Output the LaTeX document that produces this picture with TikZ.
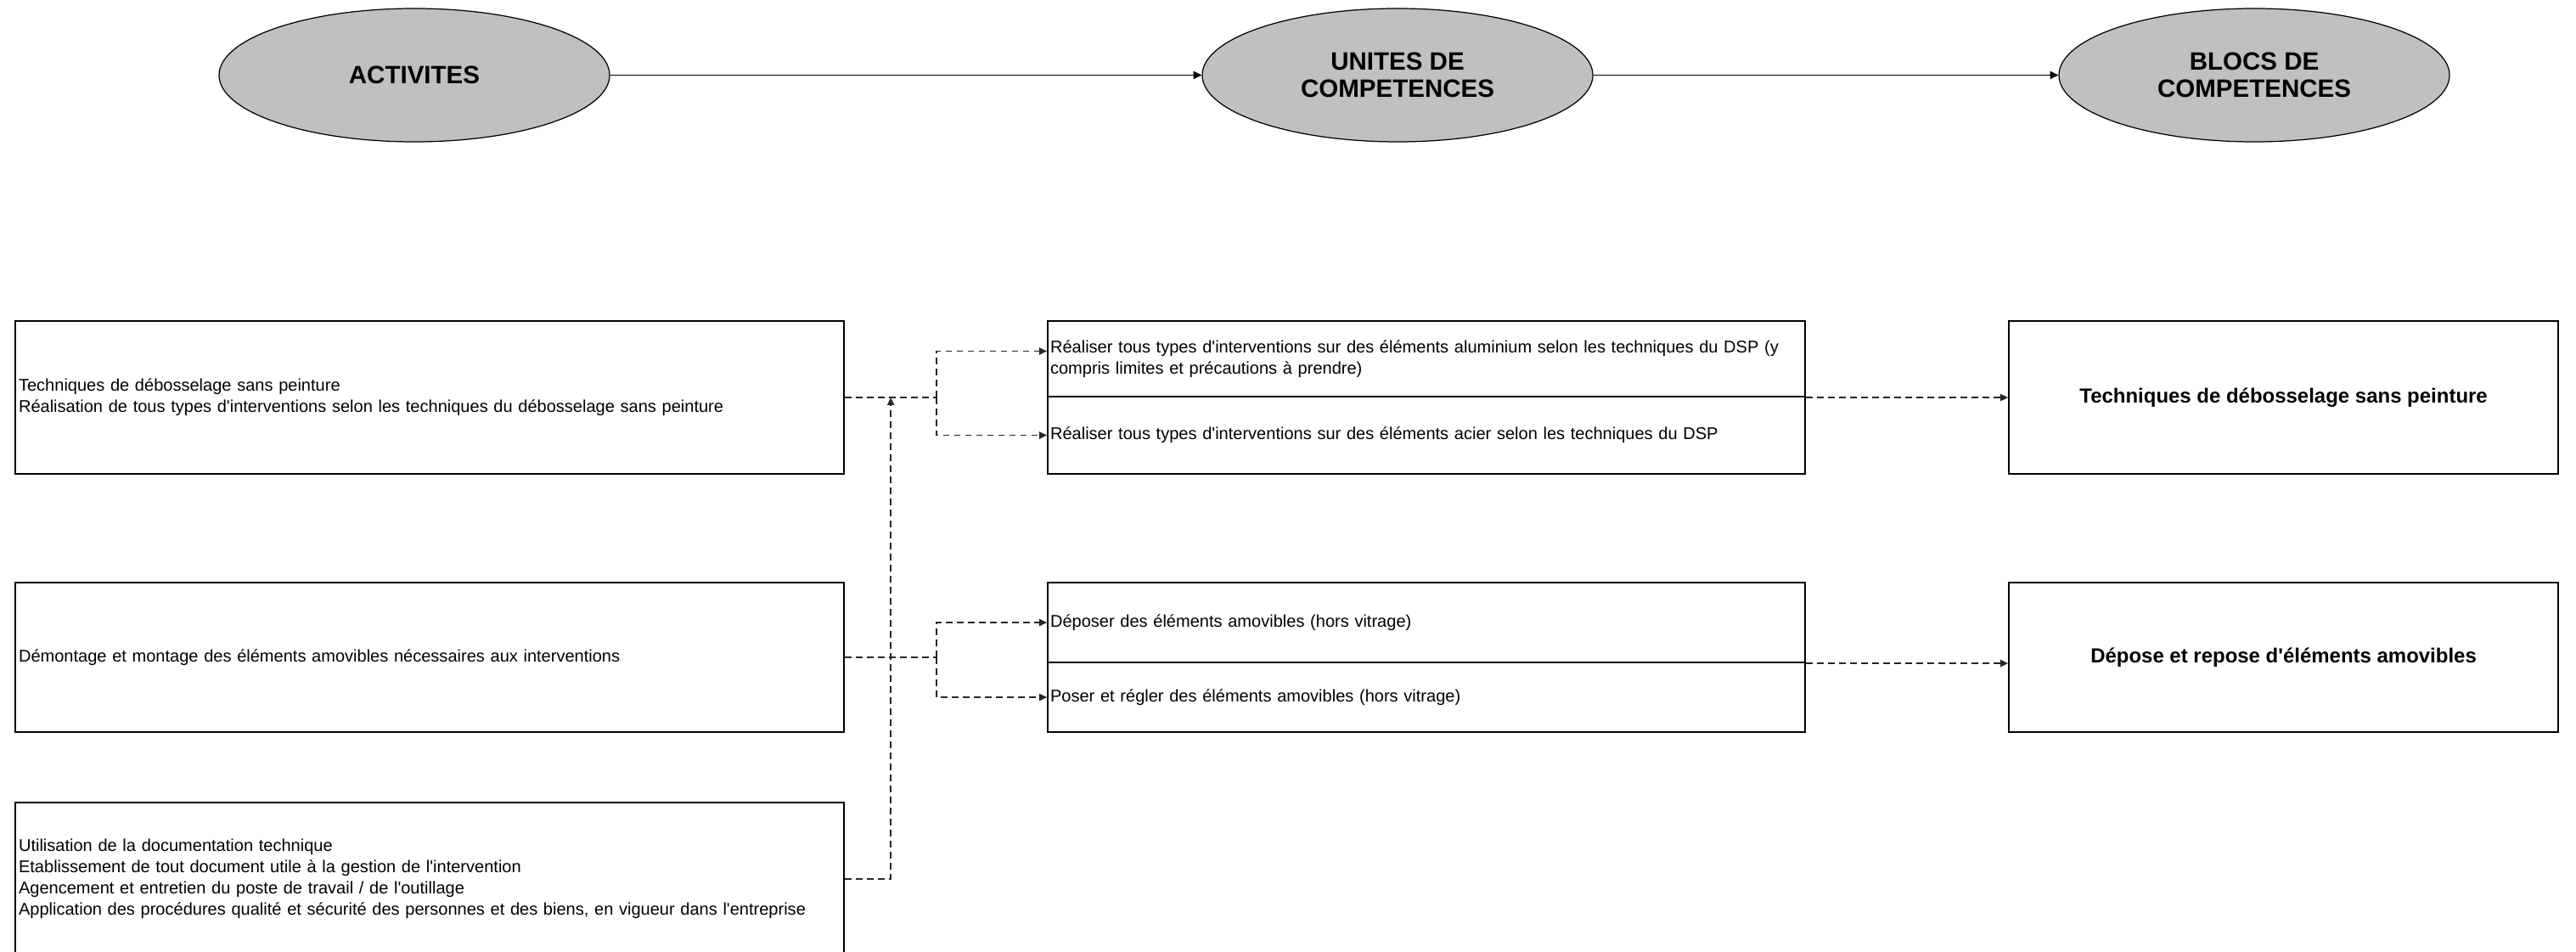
\documentclass[tikz,border=0pt]{standalone}
\usepackage{fontspec}
\setmainfont{Liberation Sans}
\usetikzlibrary{arrows.meta,shapes.geometric,calc}
\definecolor{headgray}{RGB}{192,192,192}
\newcommand{\ap}{\textquotesingle}
\begin{document}
\begin{tikzpicture}[
  head/.style={ellipse, draw, line width=0.35pt, fill=headgray, minimum width=4.6cm, minimum height=1.57cm, inner sep=0pt, align=center, font=\bfseries\fontsize{8.4}{9.3}\selectfont},
  actbox/.style={draw, line width=0.6pt, anchor=north west, inner xsep=0.04cm, inner ysep=0pt, text width=9.68cm, align=left, font=\fontsize{5.7}{7.1}\selectfont},
  unitbox/.style={draw, line width=0.6pt, anchor=north west, inner xsep=0.03cm, inner ysep=0pt, text width=8.86cm, align=left, font=\fontsize{5.7}{7.1}\selectfont},
  blocbox/.style={draw, line width=0.6pt, anchor=north west, minimum width=6.47cm, inner sep=0pt, align=center, font=\bfseries\fontsize{6.82}{8}\selectfont},
  solidarrow/.style={line width=0.5pt, -{Triangle[length=2.8pt,width=2.6pt]}},
  dline/.style={line width=0.4pt, black!85, dash pattern=on 2.2pt off 1.5pt},
  darrow/.style={dline, -{Triangle[length=2.6pt,width=2.4pt]}}
]
\useasboundingbox (0,0) rectangle (30.34,-11.21);

% header ellipses
\node[head] (act) at (4.88,-0.885) {ACTIVITES};
\node[head] (uni) at (16.46,-0.885) {UNITES DE\\COMPETENCES};
\node[head] (blo) at (26.55,-0.885) {BLOCS DE\\COMPETENCES};
\draw[solidarrow] (act.east) -- (uni.west);
\draw[solidarrow] (uni.east) -- (blo.west);

% activity boxes
\node[actbox, minimum height=1.80cm] (a1) at (0.17,-3.77) {Techniques de débosselage sans peinture\\Réalisation de tous types d\ap interventions selon les techniques du débosselage sans peinture};
\node[actbox, minimum height=1.76cm] (a2) at (0.17,-6.85) {Démontage et montage des éléments amovibles nécessaires aux interventions};
\node[actbox, minimum height=1.80cm] (a3) at (0.17,-9.44) {Utilisation de la documentation technique\\Etablissement de tout document utile à la gestion de l\ap intervention\\Agencement et entretien du poste de travail / de l\ap outillage\\Application des procédures qualité et sécurité des personnes et des biens, en vigueur dans l\ap entreprise};

% unit boxes
\node[unitbox, minimum height=0.89cm] (u1a) at (12.33,-3.77) {\mbox{Réaliser tous types d\ap interventions sur des éléments aluminium selon les techniques du DSP (y}\\compris limites et précautions à prendre)};
\node[unitbox, minimum height=0.91cm] (u1b) at (12.33,-4.66) {Réaliser tous types d\ap interventions sur des éléments acier selon les techniques du DSP};
\node[unitbox, minimum height=0.94cm] (u2a) at (12.33,-6.85) {Déposer des éléments amovibles (hors vitrage)};
\node[unitbox, minimum height=0.82cm] (u2b) at (12.33,-7.79) {Poser et régler des éléments amovibles (hors vitrage)};

% bloc boxes
\node[blocbox, minimum height=1.80cm] (b1) at (23.65,-3.77) {Techniques de débosselage sans peinture};
\node[blocbox, minimum height=1.76cm] (b2) at (23.65,-6.85) {Dépose et repose d\ap éléments amovibles};

% connectors row 1
\coordinate (j1) at ($(a1.east)+(1.08,0)$);
\coordinate (j0) at ($(a1.east)+(0.54,0)$);
\draw[dline] (a1.east) -- (j1);
\draw[darrow] (j1) |- ([yshift=0.09cm]u1a.west);
\draw[darrow] (j1) |- (u1b.west);
\draw[darrow] (a3.east) -| (j0);

% connectors row 2
\coordinate (j2) at ($(a2.east)+(1.08,0)$);
\draw[dline] (a2.east) -- (j2);
\draw[darrow] (j2) |- (u2a.west);
\draw[darrow] (j2) |- (u2b.west);

% unit to bloc
\draw[darrow] (u1a.south east) -- (b1.west |- u1a.south east);
\draw[darrow] (u2a.south east) -- (b2.west |- u2a.south east);
\end{tikzpicture}
\end{document}
